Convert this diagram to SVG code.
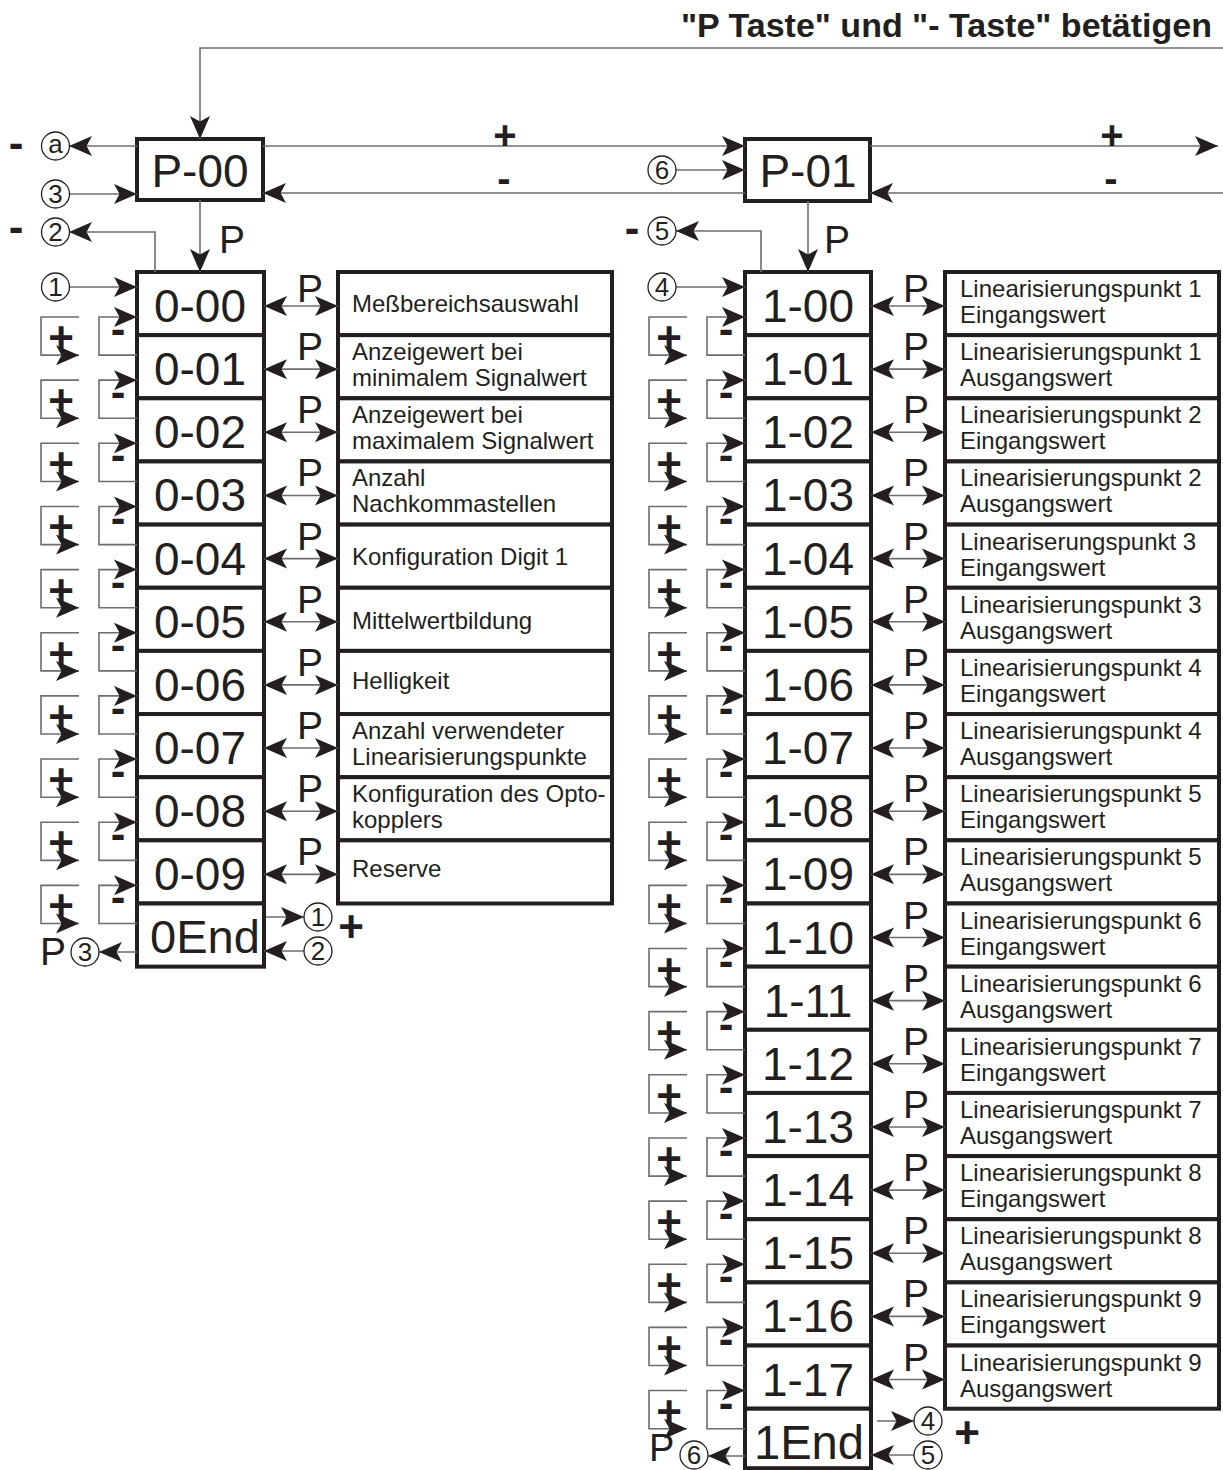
<svg xmlns="http://www.w3.org/2000/svg" width="1223" height="1470" viewBox="0 0 1223 1470">
<style>
.box{fill:#fff;stroke:#231f20;stroke-width:4}
.c{fill:none;stroke:#6d6d6d;stroke-width:1.6}
.a{marker-end:url(#ah)}
.b{marker-start:url(#ah);marker-end:url(#ah)}
text{font-family:"Liberation Sans",Arial,Helvetica,sans-serif;fill:#231f20}
.num{font-size:46px;text-anchor:middle}
.end{font-size:46px;text-anchor:middle}
.desc{font-size:24px}
.pl{font-size:39px;text-anchor:middle}
.ps{font-size:39px}
.pm{font-size:44px;font-weight:bold;text-anchor:middle}
.pt{font-size:40px;font-weight:bold;text-anchor:middle}
.ct{font-size:26px;text-anchor:middle}
.ring{fill:#fff;stroke:#231f20;stroke-width:1.3}
.title{font-size:34px;font-weight:bold;text-anchor:end}
</style>
<defs>
<marker id="ah" viewBox="-25 -11 26 22" refX="0" refY="0" markerWidth="26" markerHeight="22" markerUnits="userSpaceOnUse" orient="auto-start-reverse">
<path d="M0,0 L-23,-10 L-17.5,0 L-23,10 Z" fill="#231f20"/>
</marker>
</defs>
<rect width="1223" height="1470" fill="#fff"/>
<text class="title" x="1212" y="37">"P Taste"  und "- Taste" betätigen</text>
<g id="P-00"><rect class="box" x="137" y="139" width="126" height="61"/><text class="num" x="200" y="187">P-00</text></g>
<g id="P-01"><rect class="box" x="745" y="139" width="125" height="62"/><text class="num" x="808" y="187">P-01</text></g>
<g id="n0-00" transform="translate(0,272)"><rect class="box" x="137" y="0" width="127" height="63.15"/><text class="num" x="200" y="50">0-00</text></g>
<g id="n0-01" transform="translate(0,335.15)"><rect class="box" x="137" y="0" width="127" height="63.15"/><text class="num" x="200" y="50">0-01</text></g>
<g id="n0-02" transform="translate(0,398.3)"><rect class="box" x="137" y="0" width="127" height="63.15"/><text class="num" x="200" y="50">0-02</text></g>
<g id="n0-03" transform="translate(0,461.45)"><rect class="box" x="137" y="0" width="127" height="63.15"/><text class="num" x="200" y="50">0-03</text></g>
<g id="n0-04" transform="translate(0,524.6)"><rect class="box" x="137" y="0" width="127" height="63.15"/><text class="num" x="200" y="50">0-04</text></g>
<g id="n0-05" transform="translate(0,587.75)"><rect class="box" x="137" y="0" width="127" height="63.15"/><text class="num" x="200" y="50">0-05</text></g>
<g id="n0-06" transform="translate(0,650.9)"><rect class="box" x="137" y="0" width="127" height="63.15"/><text class="num" x="200" y="50">0-06</text></g>
<g id="n0-07" transform="translate(0,714.05)"><rect class="box" x="137" y="0" width="127" height="63.15"/><text class="num" x="200" y="50">0-07</text></g>
<g id="n0-08" transform="translate(0,777.2)"><rect class="box" x="137" y="0" width="127" height="63.15"/><text class="num" x="200" y="50">0-08</text></g>
<g id="n0-09" transform="translate(0,840.35)"><rect class="box" x="137" y="0" width="127" height="63.15"/><text class="num" x="200" y="50">0-09</text></g>
<g id="n0End" transform="translate(0,903.5)"><rect class="box" x="137" y="0" width="127" height="63.15"/><text class="end" x="205" y="49" textLength="110" lengthAdjust="spacingAndGlyphs">0End</text></g>
<g id="d0-00" transform="translate(0,272)"><rect class="box" x="338" y="0" width="274" height="63.15"/><text class="desc" x="352" y="40">Meßbereichsauswahl</text></g>
<g id="d0-01" transform="translate(0,335.15)"><rect class="box" x="338" y="0" width="274" height="63.15"/><text class="desc" x="352" y="25">Anzeigewert bei</text><text class="desc" x="352" y="51">minimalem Signalwert</text></g>
<g id="d0-02" transform="translate(0,398.3)"><rect class="box" x="338" y="0" width="274" height="63.15"/><text class="desc" x="352" y="25">Anzeigewert bei</text><text class="desc" x="352" y="51">maximalem Signalwert</text></g>
<g id="d0-03" transform="translate(0,461.45)"><rect class="box" x="338" y="0" width="274" height="63.15"/><text class="desc" x="352" y="25">Anzahl</text><text class="desc" x="352" y="51">Nachkommastellen</text></g>
<g id="d0-04" transform="translate(0,524.6)"><rect class="box" x="338" y="0" width="274" height="63.15"/><text class="desc" x="352" y="40">Konfiguration Digit 1</text></g>
<g id="d0-05" transform="translate(0,587.75)"><rect class="box" x="338" y="0" width="274" height="63.15"/><text class="desc" x="352" y="41">Mittelwertbildung</text></g>
<g id="d0-06" transform="translate(0,650.9)"><rect class="box" x="338" y="0" width="274" height="63.15"/><text class="desc" x="352" y="38">Helligkeit</text></g>
<g id="d0-07" transform="translate(0,714.05)"><rect class="box" x="338" y="0" width="274" height="63.15"/><text class="desc" x="352" y="25">Anzahl verwendeter</text><text class="desc" x="352" y="51">Linearisierungspunkte</text></g>
<g id="d0-08" transform="translate(0,777.2)"><rect class="box" x="338" y="0" width="274" height="63.15"/><text class="desc" x="352" y="25">Konfiguration des Opto-</text><text class="desc" x="352" y="51">kopplers</text></g>
<g id="d0-09" transform="translate(0,840.35)"><rect class="box" x="338" y="0" width="274" height="63.15"/><text class="desc" x="352" y="37">Reserve</text></g>
<g id="n1-00" transform="translate(0,272)"><rect class="box" x="745" y="0" width="126" height="63.15"/><text class="num" x="808" y="50">1-00</text></g>
<g id="n1-01" transform="translate(0,335.15)"><rect class="box" x="745" y="0" width="126" height="63.15"/><text class="num" x="808" y="50">1-01</text></g>
<g id="n1-02" transform="translate(0,398.3)"><rect class="box" x="745" y="0" width="126" height="63.15"/><text class="num" x="808" y="50">1-02</text></g>
<g id="n1-03" transform="translate(0,461.45)"><rect class="box" x="745" y="0" width="126" height="63.15"/><text class="num" x="808" y="50">1-03</text></g>
<g id="n1-04" transform="translate(0,524.6)"><rect class="box" x="745" y="0" width="126" height="63.15"/><text class="num" x="808" y="50">1-04</text></g>
<g id="n1-05" transform="translate(0,587.75)"><rect class="box" x="745" y="0" width="126" height="63.15"/><text class="num" x="808" y="50">1-05</text></g>
<g id="n1-06" transform="translate(0,650.9)"><rect class="box" x="745" y="0" width="126" height="63.15"/><text class="num" x="808" y="50">1-06</text></g>
<g id="n1-07" transform="translate(0,714.05)"><rect class="box" x="745" y="0" width="126" height="63.15"/><text class="num" x="808" y="50">1-07</text></g>
<g id="n1-08" transform="translate(0,777.2)"><rect class="box" x="745" y="0" width="126" height="63.15"/><text class="num" x="808" y="50">1-08</text></g>
<g id="n1-09" transform="translate(0,840.35)"><rect class="box" x="745" y="0" width="126" height="63.15"/><text class="num" x="808" y="50">1-09</text></g>
<g id="n1-10" transform="translate(0,903.5)"><rect class="box" x="745" y="0" width="126" height="63.15"/><text class="num" x="808" y="50">1-10</text></g>
<g id="n1-11" transform="translate(0,966.65)"><rect class="box" x="745" y="0" width="126" height="63.15"/><text class="num" x="808" y="50">1-11</text></g>
<g id="n1-12" transform="translate(0,1029.8)"><rect class="box" x="745" y="0" width="126" height="63.15"/><text class="num" x="808" y="50">1-12</text></g>
<g id="n1-13" transform="translate(0,1092.95)"><rect class="box" x="745" y="0" width="126" height="63.15"/><text class="num" x="808" y="50">1-13</text></g>
<g id="n1-14" transform="translate(0,1156.1)"><rect class="box" x="745" y="0" width="126" height="63.15"/><text class="num" x="808" y="50">1-14</text></g>
<g id="n1-15" transform="translate(0,1219.25)"><rect class="box" x="745" y="0" width="126" height="63.15"/><text class="num" x="808" y="50">1-15</text></g>
<g id="n1-16" transform="translate(0,1282.4)"><rect class="box" x="745" y="0" width="126" height="63.15"/><text class="num" x="808" y="50">1-16</text></g>
<g id="n1-17" transform="translate(0,1345.55)"><rect class="box" x="745" y="0" width="126" height="63.15"/><text class="num" x="808" y="50">1-17</text></g>
<g id="n1End" transform="translate(0,1408.7)"><rect class="box" x="745" y="0" width="126" height="59.5"/><text class="end" x="809" y="50.5" style="font-size:48px" textLength="110" lengthAdjust="spacingAndGlyphs">1End</text></g>
<g id="d1-00" transform="translate(0,272)"><rect class="box" x="945" y="0" width="274" height="63.15"/><text class="desc" x="960" y="25">Linearisierungspunkt 1</text><text class="desc" x="960" y="51">Eingangswert</text></g>
<g id="d1-01" transform="translate(0,335.15)"><rect class="box" x="945" y="0" width="274" height="63.15"/><text class="desc" x="960" y="25">Linearisierungspunkt 1</text><text class="desc" x="960" y="51">Ausgangswert</text></g>
<g id="d1-02" transform="translate(0,398.3)"><rect class="box" x="945" y="0" width="274" height="63.15"/><text class="desc" x="960" y="25">Linearisierungspunkt 2</text><text class="desc" x="960" y="51">Eingangswert</text></g>
<g id="d1-03" transform="translate(0,461.45)"><rect class="box" x="945" y="0" width="274" height="63.15"/><text class="desc" x="960" y="25">Linearisierungspunkt 2</text><text class="desc" x="960" y="51">Ausgangswert</text></g>
<g id="d1-04" transform="translate(0,524.6)"><rect class="box" x="945" y="0" width="274" height="63.15"/><text class="desc" x="960" y="25">Lineariserungspunkt 3</text><text class="desc" x="960" y="51">Eingangswert</text></g>
<g id="d1-05" transform="translate(0,587.75)"><rect class="box" x="945" y="0" width="274" height="63.15"/><text class="desc" x="960" y="25">Linearisierungspunkt 3</text><text class="desc" x="960" y="51">Ausgangswert</text></g>
<g id="d1-06" transform="translate(0,650.9)"><rect class="box" x="945" y="0" width="274" height="63.15"/><text class="desc" x="960" y="25">Linearisierungspunkt 4</text><text class="desc" x="960" y="51">Eingangswert</text></g>
<g id="d1-07" transform="translate(0,714.05)"><rect class="box" x="945" y="0" width="274" height="63.15"/><text class="desc" x="960" y="25">Linearisierungspunkt 4</text><text class="desc" x="960" y="51">Ausgangswert</text></g>
<g id="d1-08" transform="translate(0,777.2)"><rect class="box" x="945" y="0" width="274" height="63.15"/><text class="desc" x="960" y="25">Linearisierungspunkt 5</text><text class="desc" x="960" y="51">Eingangswert</text></g>
<g id="d1-09" transform="translate(0,840.35)"><rect class="box" x="945" y="0" width="274" height="63.15"/><text class="desc" x="960" y="25">Linearisierungspunkt 5</text><text class="desc" x="960" y="51">Ausgangswert</text></g>
<g id="d1-10" transform="translate(0,903.5)"><rect class="box" x="945" y="0" width="274" height="63.15"/><text class="desc" x="960" y="25">Linearisierungspunkt 6</text><text class="desc" x="960" y="51">Eingangswert</text></g>
<g id="d1-11" transform="translate(0,966.65)"><rect class="box" x="945" y="0" width="274" height="63.15"/><text class="desc" x="960" y="25">Linearisierungspunkt 6</text><text class="desc" x="960" y="51">Ausgangswert</text></g>
<g id="d1-12" transform="translate(0,1029.8)"><rect class="box" x="945" y="0" width="274" height="63.15"/><text class="desc" x="960" y="25">Linearisierungspunkt 7</text><text class="desc" x="960" y="51">Eingangswert</text></g>
<g id="d1-13" transform="translate(0,1092.95)"><rect class="box" x="945" y="0" width="274" height="63.15"/><text class="desc" x="960" y="25">Linearisierungspunkt 7</text><text class="desc" x="960" y="51">Ausgangswert</text></g>
<g id="d1-14" transform="translate(0,1156.1)"><rect class="box" x="945" y="0" width="274" height="63.15"/><text class="desc" x="960" y="25">Linearisierungspunkt 8</text><text class="desc" x="960" y="51">Eingangswert</text></g>
<g id="d1-15" transform="translate(0,1219.25)"><rect class="box" x="945" y="0" width="274" height="63.15"/><text class="desc" x="960" y="25">Linearisierungspunkt 8</text><text class="desc" x="960" y="51">Ausgangswert</text></g>
<g id="d1-16" transform="translate(0,1282.4)"><rect class="box" x="945" y="0" width="274" height="63.15"/><text class="desc" x="960" y="25">Linearisierungspunkt 9</text><text class="desc" x="960" y="51">Eingangswert</text></g>
<g id="d1-17" transform="translate(0,1345.55)"><rect class="box" x="945" y="0" width="274" height="63.15"/><text class="desc" x="960" y="25">Linearisierungspunkt 9</text><text class="desc" x="960" y="51">Ausgangswert</text></g>
<g id="connectors">
<path class="c a" d="M1223,48H200V139"/>
<path class="c a" d="M263,146H745"/>
<path class="c a" d="M745,193H263"/>
<path class="c a" d="M870,146H1218"/>
<path class="c a" d="M1223,193H870"/>
<path class="c a" d="M137,146H69"/>
<path class="c a" d="M69,194H137"/>
<path class="c a" d="M676,170H745"/>
<path class="c a" d="M200,200V272"/>
<path class="c a" d="M808,201V272"/>
<path class="c a" d="M155,272V232H69"/>
<path class="c a" d="M761,272V231H676"/>
<path class="c a" d="M69,287H137"/>
<path class="c a" d="M676,287H745"/>
<path class="c a" d="M266,917H304"/>
<path class="c a" d="M304,951H264"/>
<path class="c a" d="M137,952H99"/>
<path class="c a" d="M877,1421H914"/>
<path class="c a" d="M914,1455H871"/>
<path class="c a" d="M745,1456H708"/>
<g transform="translate(0,272)"><path class="c b" d="M264,34H338"/><text class="pl" x="310" y="30">P</text></g>
<g transform="translate(0,335.15)"><path class="c b" d="M264,34H338"/><text class="pl" x="310" y="25">P</text></g>
<g transform="translate(0,398.3)"><path class="c b" d="M264,34H338"/><text class="pl" x="310" y="25">P</text></g>
<g transform="translate(0,461.45)"><path class="c b" d="M264,34H338"/><text class="pl" x="310" y="25">P</text></g>
<g transform="translate(0,524.6)"><path class="c b" d="M264,34H338"/><text class="pl" x="310" y="25">P</text></g>
<g transform="translate(0,587.75)"><path class="c b" d="M264,34H338"/><text class="pl" x="310" y="25">P</text></g>
<g transform="translate(0,650.9)"><path class="c b" d="M264,34H338"/><text class="pl" x="310" y="25">P</text></g>
<g transform="translate(0,714.05)"><path class="c b" d="M264,34H338"/><text class="pl" x="310" y="25">P</text></g>
<g transform="translate(0,777.2)"><path class="c b" d="M264,34H338"/><text class="pl" x="310" y="25">P</text></g>
<g transform="translate(0,840.35)"><path class="c b" d="M264,34H338"/><text class="pl" x="310" y="25">P</text></g>
<g transform="translate(0,272)"><path class="c b" d="M871,34H945"/><text class="pl" x="916" y="30">P</text></g>
<g transform="translate(0,335.15)"><path class="c b" d="M871,34H945"/><text class="pl" x="916" y="25">P</text></g>
<g transform="translate(0,398.3)"><path class="c b" d="M871,34H945"/><text class="pl" x="916" y="25">P</text></g>
<g transform="translate(0,461.45)"><path class="c b" d="M871,34H945"/><text class="pl" x="916" y="25">P</text></g>
<g transform="translate(0,524.6)"><path class="c b" d="M871,34H945"/><text class="pl" x="916" y="25">P</text></g>
<g transform="translate(0,587.75)"><path class="c b" d="M871,34H945"/><text class="pl" x="916" y="25">P</text></g>
<g transform="translate(0,650.9)"><path class="c b" d="M871,34H945"/><text class="pl" x="916" y="25">P</text></g>
<g transform="translate(0,714.05)"><path class="c b" d="M871,34H945"/><text class="pl" x="916" y="25">P</text></g>
<g transform="translate(0,777.2)"><path class="c b" d="M871,34H945"/><text class="pl" x="916" y="25">P</text></g>
<g transform="translate(0,840.35)"><path class="c b" d="M871,34H945"/><text class="pl" x="916" y="25">P</text></g>
<g transform="translate(0,903.5)"><path class="c b" d="M871,34H945"/><text class="pl" x="916" y="25">P</text></g>
<g transform="translate(0,966.65)"><path class="c b" d="M871,34H945"/><text class="pl" x="916" y="25">P</text></g>
<g transform="translate(0,1029.8)"><path class="c b" d="M871,34H945"/><text class="pl" x="916" y="25">P</text></g>
<g transform="translate(0,1092.95)"><path class="c b" d="M871,34H945"/><text class="pl" x="916" y="25">P</text></g>
<g transform="translate(0,1156.1)"><path class="c b" d="M871,34H945"/><text class="pl" x="916" y="25">P</text></g>
<g transform="translate(0,1219.25)"><path class="c b" d="M871,34H945"/><text class="pl" x="916" y="25">P</text></g>
<g transform="translate(0,1282.4)"><path class="c b" d="M871,34H945"/><text class="pl" x="916" y="25">P</text></g>
<g transform="translate(0,1345.55)"><path class="c b" d="M871,34H945"/><text class="pl" x="916" y="25">P</text></g>
<g transform="translate(0,272)"><path class="c a" d="M137,83.15H99V45H137"/><path class="c a" d="M79,45H41V83.15H79"/><text class="pm" x="118" y="72">-</text><text class="pm" x="61" y="81">+</text></g>
<g transform="translate(0,335.15)"><path class="c a" d="M137,83.15H99V45H137"/><path class="c a" d="M79,45H41V83.15H79"/><text class="pm" x="118" y="72">-</text><text class="pm" x="61" y="81">+</text></g>
<g transform="translate(0,398.3)"><path class="c a" d="M137,83.15H99V45H137"/><path class="c a" d="M79,45H41V83.15H79"/><text class="pm" x="118" y="72">-</text><text class="pm" x="61" y="81">+</text></g>
<g transform="translate(0,461.45)"><path class="c a" d="M137,83.15H99V45H137"/><path class="c a" d="M79,45H41V83.15H79"/><text class="pm" x="118" y="72">-</text><text class="pm" x="61" y="81">+</text></g>
<g transform="translate(0,524.6)"><path class="c a" d="M137,83.15H99V45H137"/><path class="c a" d="M79,45H41V83.15H79"/><text class="pm" x="118" y="72">-</text><text class="pm" x="61" y="81">+</text></g>
<g transform="translate(0,587.75)"><path class="c a" d="M137,83.15H99V45H137"/><path class="c a" d="M79,45H41V83.15H79"/><text class="pm" x="118" y="72">-</text><text class="pm" x="61" y="81">+</text></g>
<g transform="translate(0,650.9)"><path class="c a" d="M137,83.15H99V45H137"/><path class="c a" d="M79,45H41V83.15H79"/><text class="pm" x="118" y="72">-</text><text class="pm" x="61" y="81">+</text></g>
<g transform="translate(0,714.05)"><path class="c a" d="M137,83.15H99V45H137"/><path class="c a" d="M79,45H41V83.15H79"/><text class="pm" x="118" y="72">-</text><text class="pm" x="61" y="81">+</text></g>
<g transform="translate(0,777.2)"><path class="c a" d="M137,83.15H99V45H137"/><path class="c a" d="M79,45H41V83.15H79"/><text class="pm" x="118" y="72">-</text><text class="pm" x="61" y="81">+</text></g>
<g transform="translate(0,840.35)"><path class="c a" d="M137,83.15H99V45H137"/><path class="c a" d="M79,45H41V83.15H79"/><text class="pm" x="118" y="72">-</text><text class="pm" x="61" y="81">+</text></g>
<g transform="translate(0,272)"><path class="c a" d="M745,83.15H707V45H745"/><path class="c a" d="M687,45H649V83.15H687"/><text class="pm" x="726" y="72">-</text><text class="pm" x="669" y="81">+</text></g>
<g transform="translate(0,335.15)"><path class="c a" d="M745,83.15H707V45H745"/><path class="c a" d="M687,45H649V83.15H687"/><text class="pm" x="726" y="72">-</text><text class="pm" x="669" y="81">+</text></g>
<g transform="translate(0,398.3)"><path class="c a" d="M745,83.15H707V45H745"/><path class="c a" d="M687,45H649V83.15H687"/><text class="pm" x="726" y="72">-</text><text class="pm" x="669" y="81">+</text></g>
<g transform="translate(0,461.45)"><path class="c a" d="M745,83.15H707V45H745"/><path class="c a" d="M687,45H649V83.15H687"/><text class="pm" x="726" y="72">-</text><text class="pm" x="669" y="81">+</text></g>
<g transform="translate(0,524.6)"><path class="c a" d="M745,83.15H707V45H745"/><path class="c a" d="M687,45H649V83.15H687"/><text class="pm" x="726" y="72">-</text><text class="pm" x="669" y="81">+</text></g>
<g transform="translate(0,587.75)"><path class="c a" d="M745,83.15H707V45H745"/><path class="c a" d="M687,45H649V83.15H687"/><text class="pm" x="726" y="72">-</text><text class="pm" x="669" y="81">+</text></g>
<g transform="translate(0,650.9)"><path class="c a" d="M745,83.15H707V45H745"/><path class="c a" d="M687,45H649V83.15H687"/><text class="pm" x="726" y="72">-</text><text class="pm" x="669" y="81">+</text></g>
<g transform="translate(0,714.05)"><path class="c a" d="M745,83.15H707V45H745"/><path class="c a" d="M687,45H649V83.15H687"/><text class="pm" x="726" y="72">-</text><text class="pm" x="669" y="81">+</text></g>
<g transform="translate(0,777.2)"><path class="c a" d="M745,83.15H707V45H745"/><path class="c a" d="M687,45H649V83.15H687"/><text class="pm" x="726" y="72">-</text><text class="pm" x="669" y="81">+</text></g>
<g transform="translate(0,840.35)"><path class="c a" d="M745,83.15H707V45H745"/><path class="c a" d="M687,45H649V83.15H687"/><text class="pm" x="726" y="72">-</text><text class="pm" x="669" y="81">+</text></g>
<g transform="translate(0,903.5)"><path class="c a" d="M745,83.15H707V45H745"/><path class="c a" d="M687,45H649V83.15H687"/><text class="pm" x="726" y="72">-</text><text class="pm" x="669" y="81">+</text></g>
<g transform="translate(0,966.65)"><path class="c a" d="M745,83.15H707V45H745"/><path class="c a" d="M687,45H649V83.15H687"/><text class="pm" x="726" y="72">-</text><text class="pm" x="669" y="81">+</text></g>
<g transform="translate(0,1029.8)"><path class="c a" d="M745,83.15H707V45H745"/><path class="c a" d="M687,45H649V83.15H687"/><text class="pm" x="726" y="72">-</text><text class="pm" x="669" y="81">+</text></g>
<g transform="translate(0,1092.95)"><path class="c a" d="M745,83.15H707V45H745"/><path class="c a" d="M687,45H649V83.15H687"/><text class="pm" x="726" y="72">-</text><text class="pm" x="669" y="81">+</text></g>
<g transform="translate(0,1156.1)"><path class="c a" d="M745,83.15H707V45H745"/><path class="c a" d="M687,45H649V83.15H687"/><text class="pm" x="726" y="72">-</text><text class="pm" x="669" y="81">+</text></g>
<g transform="translate(0,1219.25)"><path class="c a" d="M745,83.15H707V45H745"/><path class="c a" d="M687,45H649V83.15H687"/><text class="pm" x="726" y="72">-</text><text class="pm" x="669" y="81">+</text></g>
<g transform="translate(0,1282.4)"><path class="c a" d="M745,83.15H707V45H745"/><path class="c a" d="M687,45H649V83.15H687"/><text class="pm" x="726" y="72">-</text><text class="pm" x="669" y="81">+</text></g>
<g transform="translate(0,1345.55)"><path class="c a" d="M745,83.15H707V45H745"/><path class="c a" d="M687,45H649V83.15H687"/><text class="pm" x="726" y="72">-</text><text class="pm" x="669" y="81">+</text></g>
</g>
<g id="labels">
<text class="pt" x="505" y="148.5">+</text>
<text class="pt" x="504" y="191.5">-</text>
<text class="pt" x="1112" y="148.5">+</text>
<text class="pt" x="1111" y="191.5">-</text>
<text class="pm" x="16" y="158">-</text>
<text class="pm" x="16" y="242">-</text>
<text class="pm" x="632" y="243">-</text>
<text class="pm" x="351" y="942">+</text>
<text class="pm" x="967" y="1448">+</text>
<text class="ps" x="219" y="253">P</text>
<text class="ps" x="824" y="253">P</text>
<text class="ps" x="40" y="965">P</text>
<text class="ps" x="649" y="1461" style="font-size:38px">P</text>
</g>
<g id="terminals">
<g id="t-a"><circle class="ring" cx="55.5" cy="146" r="14"/><text class="ct" x="55.5" y="152.8">a</text></g>
<g id="t-3"><circle class="ring" cx="55.5" cy="194" r="14"/><text class="ct" x="55.5" y="203.3">3</text></g>
<g id="t-2"><circle class="ring" cx="55.5" cy="232" r="14"/><text class="ct" x="55.5" y="241.3">2</text></g>
<g id="t-1"><circle class="ring" cx="55.5" cy="287" r="14"/><text class="ct" x="55.5" y="296.3">1</text></g>
<g id="t-6"><circle class="ring" cx="662" cy="170" r="14"/><text class="ct" x="662" y="179.3">6</text></g>
<g id="t-5"><circle class="ring" cx="662" cy="231" r="14"/><text class="ct" x="662" y="240.3">5</text></g>
<g id="t-4"><circle class="ring" cx="662" cy="287" r="14"/><text class="ct" x="662" y="296.3">4</text></g>
<g id="t-1b"><circle class="ring" cx="318" cy="917" r="14"/><text class="ct" x="318" y="926.3">1</text></g>
<g id="t-2b"><circle class="ring" cx="318" cy="951" r="14"/><text class="ct" x="318" y="960.3">2</text></g>
<g id="t-3b"><circle class="ring" cx="85" cy="952" r="14"/><text class="ct" x="85" y="961.3">3</text></g>
<g id="t-4b"><circle class="ring" cx="928" cy="1421" r="14"/><text class="ct" x="928" y="1430.3">4</text></g>
<g id="t-5b"><circle class="ring" cx="928" cy="1455" r="14"/><text class="ct" x="928" y="1464.3">5</text></g>
<g id="t-6b"><circle class="ring" cx="694" cy="1455" r="14"/><text class="ct" x="694" y="1464.3">6</text></g>
</g>
</svg>
